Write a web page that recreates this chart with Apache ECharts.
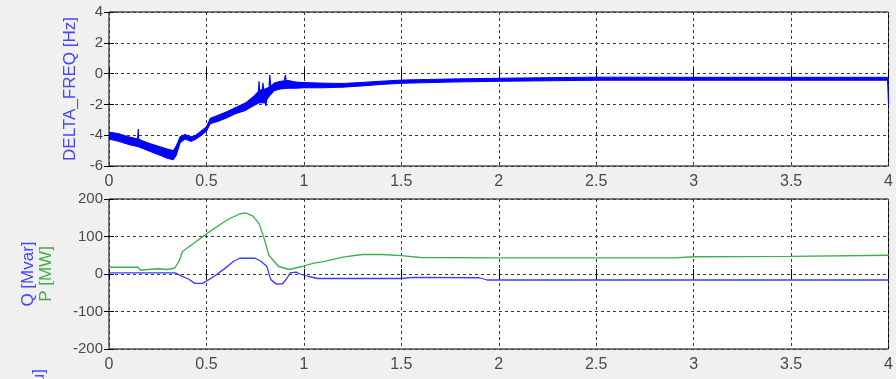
<!DOCTYPE html>
<html><head><meta charset="utf-8">
<script src="https://cdn.jsdelivr.net/npm/echarts@6/dist/echarts.min.js"></script>
<style>html,body{margin:0;padding:0;background:#f0f0f0}#c{width:896px;height:379px}</style>
</head><body><div id="c"></div>
<script>
// ---- data ----
const freqT    = [0, 0.05, 0.1, 0.15, 0.2, 0.25, 0.3, 0.33, 0.345, 0.365, 0.39, 0.42, 0.44, 0.47, 0.5, 0.52, 0.56, 0.6, 0.65, 0.7, 0.74, 0.77, 0.8, 0.82, 0.85, 0.88, 0.92, 0.96, 1.0, 1.1, 1.2, 1.3, 1.4, 1.5, 1.75, 2.0, 2.5, 3.0, 3.5, 3.995];
const freqLow  = [-4.25, -4.4, -4.6, -4.75, -5.0, -5.25, -5.5, -5.6, -5.3, -4.5, -4.25, -4.4, -4.3, -4.05, -3.75, -3.25, -3.1, -2.9, -2.6, -2.4, -2.1, -1.9, -1.9, -1.5, -1.1, -1.0, -0.95, -0.95, -0.92, -0.92, -0.88, -0.8, -0.7, -0.63, -0.55, -0.5, -0.43, -0.43, -0.43, -0.43];
const freqHigh = [-3.8, -3.9, -4.1, -4.25, -4.5, -4.7, -4.9, -5.0, -4.7, -4.1, -3.95, -4.1, -4.05, -3.75, -3.45, -2.9, -2.7, -2.5, -2.2, -1.9, -1.5, -1.1, -1.0, -0.9, -0.6, -0.5, -0.45, -0.55, -0.58, -0.62, -0.64, -0.57, -0.49, -0.42, -0.35, -0.3, -0.23, -0.24, -0.24, -0.24];
const spikeT   = [0.147, 0.15, 0.153, null, 0.765, 0.77, 0.775, 0.785, 0.79, 0.797, 0.805, 0.81, 0.82, 0.825, 0.83, null, 0.895, 0.905, 0.912, null, 3.995, 4.0];
const spikeV   = [-4.4, -3.6, -4.5, null, -1.6, -0.5, -1.5, -1.3, -0.6, -1.6, -2.1, -1.5, -1.2, -0.1, -0.9, null, -0.8, -0.1, -0.7, null, -0.35, -2.0];

const pT   = [0, 0.15, 0.16, 0.2, 0.25, 0.3, 0.337, 0.36, 0.377, 0.43, 0.5, 0.57, 0.62, 0.67, 0.7, 0.737, 0.77, 0.8, 0.82, 0.87, 0.925, 0.99, 1.05, 1.1, 1.2, 1.3, 1.4, 1.5, 1.6, 2.0, 2.5, 2.9, 3.0, 3.5, 4.0];
const pMW  = [18, 18, 10, 12, 14, 12, 16, 35, 60, 80, 107, 132, 148, 160, 163, 155, 135, 88, 50, 20, 12, 20, 29, 33, 45, 52, 52, 49, 44, 43, 43, 43, 46, 47, 50];
const qT   = [0, 0.34, 0.37, 0.41, 0.44, 0.48, 0.5, 0.54, 0.59, 0.64, 0.67, 0.75, 0.78, 0.81, 0.83, 0.86, 0.89, 0.91, 0.93, 0.96, 0.98, 1.02, 1.07, 1.2, 1.5, 1.56, 1.9, 1.94, 4.0];
const qMvar= [3, 3, -5, -14, -25, -25, -19, -6, 13, 34, 42, 42, 34, 20, -15, -27, -26, -14, 3, 5, 0, -6, -12, -12, -12, -9, -10, -16, -16];

const xTicks = [0, 0.5, 1, 1.5, 2, 2.5, 3, 3.5, 4];
const freqTicks = [-6, -4, -2, 0, 2, 4];
const pqTicks = [-200, -100, 0, 100, 200];

// ---- build ----
const zip = (a, b) => a.map((v, i) => [v, b[i]]);
const bandData = freqT.map((t, i) => [t, freqLow[i], freqHigh[i]]);
const FONT = 'Liberation Sans, Arial, sans-serif';
const gridLine = { show: true, lineStyle: { color: '#3a3a3a', type: [3, 3], width: 1 } };
const tick = { show: true, inside: true, length: 5, lineStyle: { color: '#000' } };

function xAxes(gi) {
  return [
    { type: 'value', gridIndex: gi, min: xTicks[0], max: xTicks[xTicks.length - 1], interval: xTicks[1] - xTicks[0], position: 'bottom',
      axisLine: { show: false }, axisTick: tick, splitLine: gridLine,
      axisLabel: { color: '#4a4a4a', fontSize: 16, fontFamily: FONT, margin: 8 } },
    { type: 'value', gridIndex: gi, min: xTicks[0], max: xTicks[xTicks.length - 1], interval: xTicks[1] - xTicks[0], position: 'top',
      axisLine: { show: false }, axisTick: tick, splitLine: { show: false }, axisLabel: { show: false } }
  ];
}
function yAxes(gi, ticks, extra) {
  return [
    Object.assign({ type: 'value', gridIndex: gi, min: ticks[0], max: ticks[ticks.length - 1], interval: ticks[1] - ticks[0], position: 'left',
      axisLine: { show: false }, axisTick: tick, splitLine: gridLine,
      axisLabel: { color: '#4a4a4a', fontSize: 15, fontFamily: FONT, margin: 6 } }, extra),
    { type: 'value', gridIndex: gi, min: ticks[0], max: ticks[ticks.length - 1], interval: ticks[1] - ticks[0], position: 'right',
      axisLine: { show: false }, axisTick: tick, splitLine: { show: false }, axisLabel: { show: false } }
  ];
}

const chart = echarts.init(document.getElementById('c'), null, { renderer: 'canvas' });
chart.setOption({
  backgroundColor: '#f0f0f0',
  animation: false,
  grid: [
    { left: 109, right: 4, top: 12, height: 154, show: true, backgroundColor: '#fff', borderColor: '#000', borderWidth: 1 },
    { left: 109, right: 4, top: 199, height: 150, show: true, backgroundColor: '#fff', borderColor: '#000', borderWidth: 1 }
  ],
  xAxis: [...xAxes(0), ...xAxes(1)],
  yAxis: [
    ...yAxes(0, freqTicks, { name: 'DELTA_FREQ [Hz]', nameLocation: 'middle', nameGap: 30,
      nameTextStyle: { color: '#4646ff', fontSize: 17, fontFamily: FONT } }),
    ...yAxes(1, pqTicks, { name: '{q|Q [Mvar]}\n{p|P [MW]}', nameLocation: 'middle', nameGap: 54,
      nameTextStyle: { fontSize: 17, fontFamily: FONT, lineHeight: 18,
        rich: { q: { color: '#4646ff', fontSize: 17, fontFamily: FONT, lineHeight: 18 },
                p: { color: '#3cb04a', fontSize: 17, fontFamily: FONT, lineHeight: 18 } } } })
  ],
  graphic: [
    { type: 'text', x: 39, y: 369, rotation: Math.PI / 2,
      style: { text: 'V [pu]', fill: '#4646ff', font: '17px ' + FONT, textAlign: 'right', textVerticalAlign: 'middle' } }
  ],
  series: [
    { type: 'custom', xAxisIndex: 0, yAxisIndex: 0, data: bandData, encode: { x: 0, y: [1, 2] }, clip: true,
      renderItem: function (params, api) {
        const i = params.dataIndex;
        if (i >= bandData.length - 1) return null;
        const a = bandData[i], b = bandData[i + 1];
        const pts = [api.coord([a[0], a[1]]), api.coord([b[0], b[1]]), api.coord([b[0], b[2]]), api.coord([a[0], a[2]])];
        return { type: 'polygon', shape: { points: pts }, style: { fill: '#0000ff', stroke: '#0000ff', lineWidth: 1 } };
      } },
    { type: 'line', xAxisIndex: 0, yAxisIndex: 0, data: zip(spikeT, spikeV).map(p => p[0] === null ? ['-', '-'] : p),
      connectNulls: false, showSymbol: false, lineStyle: { color: '#0000ff', width: 1.2 } },
    { type: 'line', xAxisIndex: 2, yAxisIndex: 2, data: zip(pT, pMW), showSymbol: false,
      lineStyle: { color: '#3cb04a', width: 1.3 } },
    { type: 'line', xAxisIndex: 2, yAxisIndex: 2, data: zip(qT, qMvar), showSymbol: false,
      lineStyle: { color: '#3c3cff', width: 1.3 } }
  ]
});
</script></body></html>
